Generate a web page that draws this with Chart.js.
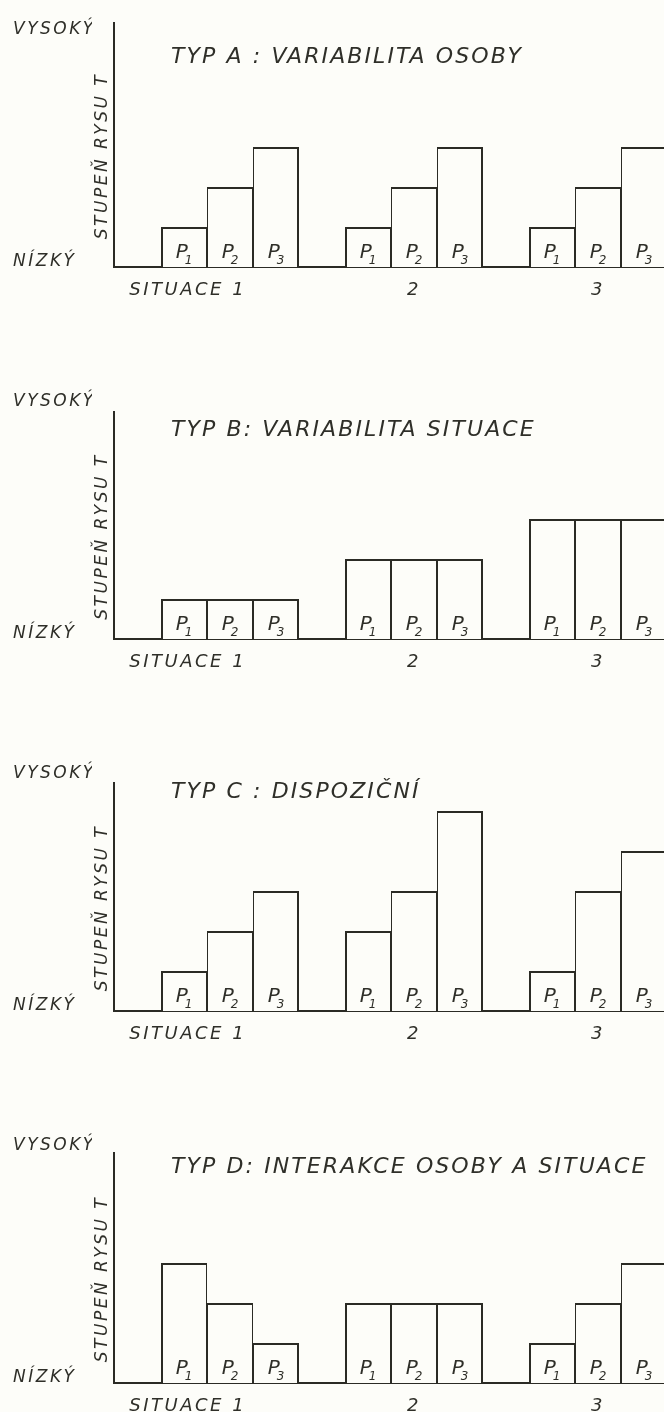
<!DOCTYPE html>
<html>
<head>
<meta charset="utf-8">
<script src="https://cdn.jsdelivr.net/npm/chart.js@4.4.1/dist/chart.umd.min.js"></script>
<style>
  html, body { margin: 0; padding: 0; background: #fdfdf9; }
  body { width: 664px; height: 1412px; overflow: hidden; position: relative; }
  .panel { position: absolute; left: 0; width: 664px; height: 372px; }
</style>
</head>
<body>
<div class="panel" style="top:0px"><canvas id="typA"></canvas></div>
<div class="panel" style="top:372px"><canvas id="typB"></canvas></div>
<div class="panel" style="top:744px"><canvas id="typC"></canvas></div>
<div class="panel" style="top:1116px"><canvas id="typD"></canvas></div>
<script>
const INK = '#2b2b25';
const TEXT = '#2f2f29';
const FONT = "'DejaVu Sans', sans-serif";

// data (1 = one step on the trait scale)
const situations = [1, 2, 3];
const situationLabels = ['SITUACE 1', '2', '3'];
const personIndex = ['1', '2', '3'];
const levelLabels = ['NÍZKÝ', 'VYSOKÝ'];
const axisTitle = 'STUPEŇ RYSU T';
const panelTitles = [
  'TYP A : VARIABILITA OSOBY',
  'TYP B: VARIABILITA SITUACE',
  'TYP C : DISPOZIČNÍ',
  'TYP D: INTERAKCE OSOBY A SITUACE'
];

const typA_P1 = [1, 1, 1];
const typA_P2 = [2, 2, 2];
const typA_P3 = [3, 3, 3];

const typB_P1 = [1, 2, 3];
const typB_P2 = [1, 2, 3];
const typB_P3 = [1, 2, 3];

const typC_P1 = [1, 2, 1];
const typC_P2 = [2, 3, 3];
const typC_P3 = [3, 5, 4];

const typD_P1 = [3, 2, 1];
const typD_P2 = [2, 2, 2];
const typD_P3 = [1, 2, 3];

const panels = [
  { id: 'typA', series: [typA_P1, typA_P2, typA_P3], yMax: 6.1, titleY: 57 },
  { id: 'typB', series: [typB_P1, typB_P2, typB_P3], yMax: 5.675, titleY: 58 },
  { id: 'typC', series: [typC_P1, typC_P2, typC_P3], yMax: 5.7, titleY: 48 },
  { id: 'typD', series: [typD_P1, typD_P2, typD_P3], yMax: 5.75, titleY: 51 }
];

// x scale: 184 px per situation, chart area starts at 114
const X_MIN = 1 - 116 / 184;
const X_MAX = X_MIN + 550 / 184;

// panel title and the P1/P2/P3 marks inside the bars
const panelText = {
  id: 'panelText',
  beforeDraw(chart) {
    chart.ctx.letterSpacing = '2.5px';
  },
  afterDatasetsDraw(chart, args, opts) {
    const ctx = chart.ctx;
    ctx.save();
    ctx.fillStyle = TEXT;
    ctx.letterSpacing = '2.1px';
    ctx.font = 'italic 22px ' + FONT;
    ctx.textAlign = 'left';
    ctx.textBaseline = 'middle';
    ctx.fillText(opts.title, 171, opts.titleY);

    ctx.letterSpacing = '0px';
    ctx.textBaseline = 'alphabetic';
    const base = chart.scales.y.getPixelForValue(0);
    chart.data.datasets.forEach((ds, d) => {
      chart.getDatasetMeta(d).data.forEach(bar => {
        ctx.font = 'italic 20px ' + FONT;
        const pw = ctx.measureText('P').width;
        ctx.font = 'italic 12px ' + FONT;
        const sw = ctx.measureText(personIndex[d]).width;
        const x0 = bar.x - (pw + sw - 3) / 2;
        ctx.font = 'italic 20px ' + FONT;
        ctx.fillText('P', x0, base - 9);
        ctx.font = 'italic 12px ' + FONT;
        ctx.fillText(personIndex[d], x0 + pw - 3, base - 3);
      });
    });
    ctx.restore();
  }
};

panels.forEach((p, n) => {
  const persons = p.series.map((vals, d) => ({
    label: 'P' + personIndex[d],
    data: situations.map((s, i) => ({ x: s, y: vals[i] })),
    backgroundColor: '#fdfdf9',
    borderColor: INK,
    borderWidth: c => ({
      top: 2,
      bottom: 0,
      left: c.datasetIndex === 0 ? 2 : 1,
      right: c.datasetIndex === 2 ? 2 : 1
    }),
    borderSkipped: false,
    barPercentage: 1,
    categoryPercentage: 0.75
  }));

  new Chart(document.getElementById(p.id), {
    type: 'bar',
    data: { datasets: persons },
    plugins: [panelText],
    options: {
      responsive: true,
      maintainAspectRatio: false,
      animation: false,
      layout: { padding: { top: 267 - p.yMax * 40, left: 13, right: 0, bottom: 0 } },
      plugins: {
        legend: { display: false },
        tooltip: { enabled: false },
        panelText: { title: panelTitles[n], titleY: p.titleY }
      },
      scales: {
        x: {
          type: 'linear',
          min: X_MIN,
          max: X_MAX,
          offset: false,
          grid: { display: false, drawTicks: false },
          border: { display: true, color: INK, width: 2 },
          ticks: {
            color: TEXT,
            font: { family: FONT, size: 18, style: 'italic' },
            padding: 13,
            autoSkip: false,
            maxRotation: 0,
            callback: (v, i) => situationLabels[i]
          },
          afterBuildTicks: s => { s.ticks = [0.77, 2, 3].map(v => ({ value: v })); },
          afterFit: s => { s.height = 105; }
        },
        y: {
          type: 'linear',
          position: 'left',
          weight: 0,
          min: 0,
          max: p.yMax,
          grid: { display: false, drawTicks: false },
          border: { display: true, color: INK, width: 2 },
          ticks: { display: false },
          title: {
            display: true,
            text: axisTitle + '\u2002\u2002',
            color: TEXT,
            font: { family: FONT, size: 17, style: 'italic' },
            padding: 0
          },
          afterFit: s => { s.width = 22; }
        },
        yLab: {
          type: 'linear',
          axis: 'y',
          position: 'left',
          weight: 1,
          min: 0,
          max: p.yMax,
          grid: { display: false, drawTicks: false },
          border: { display: false },
          ticks: {
            color: TEXT,
            font: { family: FONT, size: 17, style: 'italic' },
            crossAlign: 'far',
            padding: 0,
            autoSkip: false,
            callback: (v, i) => levelLabels[i]
          },
          afterBuildTicks: s => { s.ticks = [0.125, 5.925].map(v => ({ value: v })); },
          afterFit: s => { s.width = 79; }
        }
      }
    }
  });
});
</script>
</body>
</html>
